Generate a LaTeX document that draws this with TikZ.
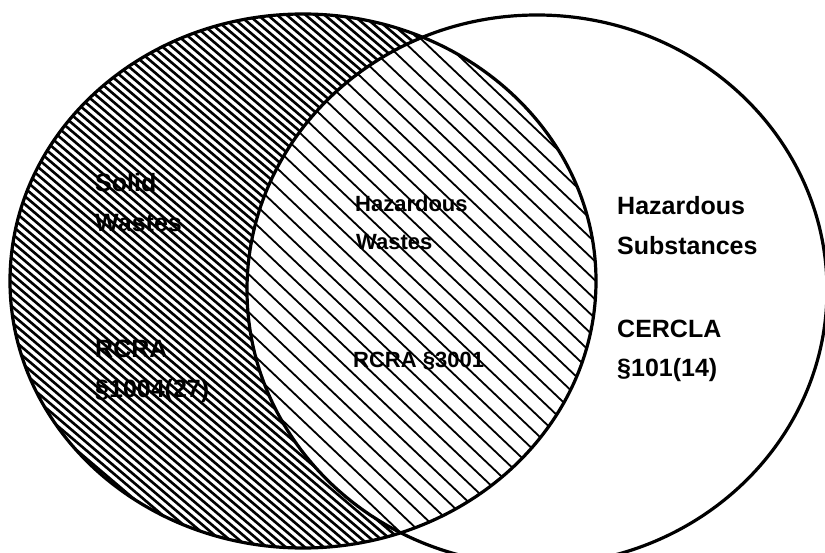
\documentclass[tikz,border=0pt]{standalone}
\usepackage{fontspec}
\setmainfont{Liberation Sans}
\usepackage{tikz}
\tikzset{
  lbl/.style={anchor=base west,inner sep=0pt,font=\fontsize{25}{30}\selectfont\bfseries},
  lblmid/.style={anchor=base west,inner sep=0pt,font=\fontsize{22}{26}\selectfont\bfseries},
  rim/.style={line width=3.2pt}
}
\begin{document}
\begin{tikzpicture}[line cap=round,line join=round,x=1pt,y=-1pt]
\useasboundingbox (0,0) rectangle (825,553);
\coordinate (SW) at (303,281);
\coordinate (HS) at (537,290);

% hatching
\begin{scope}
\clip (SW) ellipse [x radius=293, y radius=267];
\foreach \c in {-700,-690.5,...,800}
  \draw [line width=2.6pt] (\c-100,-85) -- (\c+900,765);
\fill [white] (HS) ellipse [x radius=290, y radius=275];
\clip (HS) ellipse [x radius=290, y radius=275];
\foreach \c in {-700,-680,...,800}
  \draw [line width=1.8pt] (\c-100,-95) -- (\c+900,855);
\end{scope}

\draw [rim] (SW) ellipse [x radius=293, y radius=267];
\draw [rim] (HS) ellipse [x radius=290, y radius=275];

\node [lbl] (solid) at (95,192) {Solid};
\node [lbl] (solidw) at (95,232) {Wastes};
\node [lbl] (rcra) at (95,358) {RCRA};
\node [lbl] (rcrasec) at (95,398) {\S1004(27)};

\node [lblmid] (haz) at (355,212) {Hazardous};
\node [lblmid] (hazw) at (356,250) {Wastes};
\node [lblmid] (rcramid) at (353,367) {RCRA \S3001};

\node [lbl] (hsub) at (617,215) {Hazardous};
\node [lbl] (hsubs) at (617,255) {Substances};
\node [lbl] (cercla) at (617,338) {CERCLA};
\node [lbl] (cerclasec) at (617,377) {\S101(14)};
%\draw (537,290) circle (2pt);
\end{tikzpicture}
\end{document}
